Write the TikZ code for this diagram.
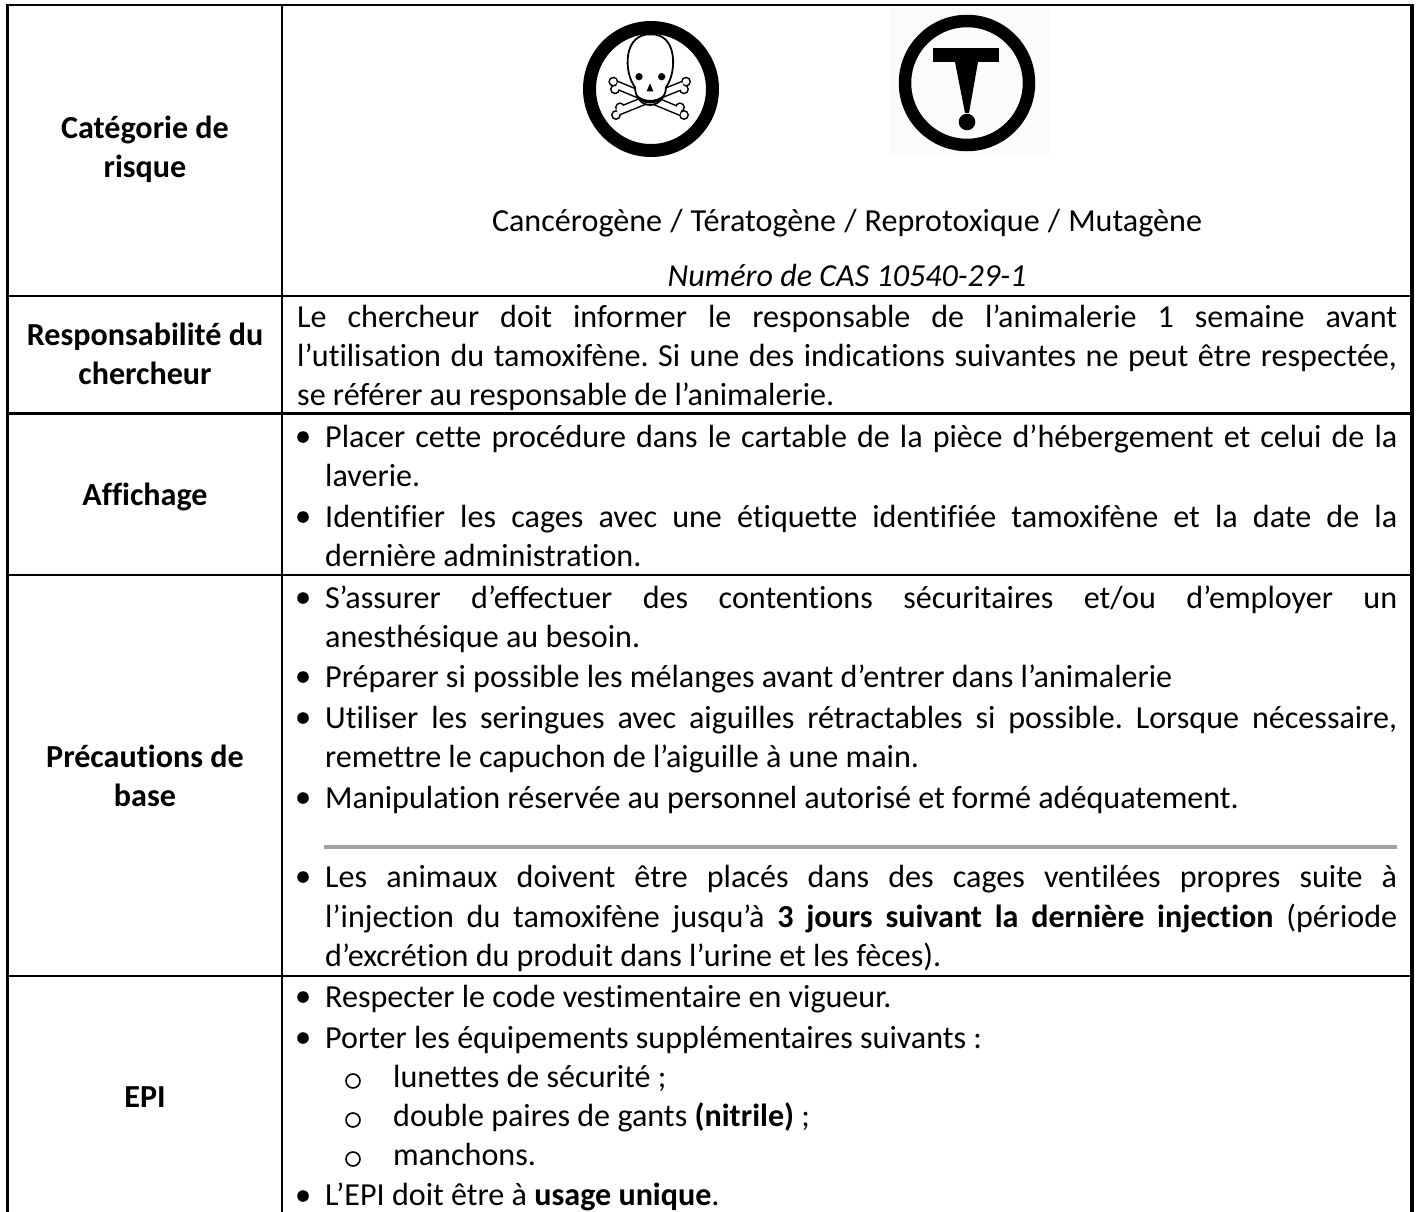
\documentclass[tikz,border=0pt]{standalone}
\usepackage{fontspec}
\setmainfont{Carlito}[Ligatures=NoCommon]
\newcommand{\fs}{\fontsize{32.1}{39}\selectfont\frenchspacing}
\tikzset{x=1pt,y=-1pt,
 rule/.style={line width=2.6pt,black},
 txt/.style={inner sep=0pt,anchor=base west,font=\fs,text=black},
 ctr/.style={inner sep=0pt,anchor=base,font=\fs,text=black},
 head/.style={inner sep=0pt,anchor=base,font=\fs\bfseries,text=black},
 bone/.style={line width=9pt,black},
 boneIn/.style={line width=6pt,white}}
\newcommand{\J}[4]{\node[txt] (#1) at (#2,#3) {\makebox[\dimexpr1397pt-#2pt\relax][s]{#4}};}
\newcommand{\Bul}[1]{\fill[black] (303,#1-10) circle (5.8pt);}
\newcommand{\Sub}[1]{\draw[black,line width=1.6pt] (353,#1-6) circle (7pt);}
\newcommand{\BoneEnd}[5]{% centre lobes
 \fill[#5] (#1,#2) circle (#4) (#1,#3) circle (#4);}
\begin{document}
\begin{tikzpicture}
\useasboundingbox (0,0) rectangle (1417,1212);
\fill[white] (0,0) rectangle (1417,1212);
% table rules
\draw[rule] (7.5,5) -- (1413,5);
\draw[rule] (7.5,3.7) -- (7.5,1212);
\draw[rule] (282,5) -- (282,1212);
\draw[line width=3.2pt,black] (1412,3.7) -- (1412,1212);
\draw[rule] (7.5,296) -- (1412,296);
\draw[rule] (7.5,413.5) -- (1412,413.5);
\draw[rule] (7.5,575) -- (1412,575);
\draw[rule] (7.5,976) -- (1412,976);
\draw[line width=4pt,black!37] (324,847) -- (1397,847);
% left column
\node[head] (a1) at (145,139) {Catégorie de};
\node[head] (a2) at (145,178) {risque};
\node[head] (b1) at (145,345) {Responsabilité du};
\node[head] (b2) at (145,384) {chercheur};
\node[head] (c1) at (145,505) {Affichage};
\node[head] (d1) at (145,767) {Précautions de};
\node[head] (d2) at (145,806) {base};
\node[head] (e1) at (145,1107) {EPI};
% symbol 1: skull and bones
\draw[line width=13pt,black] (651,89) circle (61.5);
\begin{scope}[shift={(560,0)},x=0.3333pt,y=-0.3333pt]
 \fill[black] (160,245) circle (15) (165,268) circle (15)
              (378,245) circle (15) (372,268) circle (15)
              (168,345) circle (15) (180,322) circle (15)
              (372,345) circle (15) (360,322) circle (15);
 \draw[bone] (170,255) -- (362,335) (172,335) -- (370,255);
 \fill[white] (160,245) circle (10) (165,268) circle (10)
              (378,245) circle (10) (372,268) circle (10)
              (168,345) circle (10) (180,322) circle (10)
              (372,345) circle (10) (360,322) circle (10);
 \draw[boneIn] (170,255) -- (362,335) (172,335) -- (370,255);
 \draw[black,line width=1.8pt,fill=white] (225,262)
   .. controls (190,215) and (190,100) .. (272,103)
   .. controls (352,100) and (352,215) .. (318,262)
   .. controls (318,285) and (300,315) .. (270,315)
   .. controls (240,315) and (225,285) .. (225,262) -- cycle;
 \fill[black] (237,230) circle (11) (305,230) circle (11);
 \fill[black] (270,250) -- (280,274) -- (260,274) -- cycle;
 \fill[black] (232,285) .. controls (250,305) and (290,305) .. (310,285)
   -- (306,296) .. controls (290,315) and (250,315) .. (236,296) -- cycle;
\end{scope}
% symbol 2: T mark
\fill[black!1.5] (890,8) rectangle (1050,155);
\draw[line width=12.5pt,black] (967,83) circle (62);
\fill[black] (933,48) rectangle (999,62);
\fill[black] (955,62) -- (978,62) -- (969,113) -- (965,113) -- cycle;
\fill[black] (967,122) circle (8.3);
% first row text
\node[ctr] (r1a) at (847,231) {\makebox[710pt][s]{Cancérogène / Tératogène / Reprotoxique / Mutagène}};
\node[ctr] (r1b) at (847,286) {\itshape Numéro de CAS 10540-29-1};
% responsabilité
\J{r2a}{297}{327}{Le chercheur doit informer le responsable de l’animalerie 1 semaine avant}
\J{r2b}{297}{366}{l’utilisation du tamoxifène. Si une des indications suivantes ne peut être respectée,}
\node[txt] (r2c) at (297,405) {se référer au responsable de l’animalerie.};
% affichage
\Bul{447}
\J{r3a}{325}{447}{Placer cette procédure dans le cartable de la pièce d’hébergement et celui de la}
\node[txt] (r3b) at (325,486) {laverie.};
\Bul{527}
\J{r3c}{325}{527}{Identifier les cages avec une étiquette identifiée tamoxifène et la date de la}
\node[txt] (r3d) at (325,566) {dernière administration.};
% précautions
\Bul{608}
\J{r4a}{325}{608}{S’assurer d’effectuer des contentions sécuritaires et/ou d’employer un}
\node[txt] (r4b) at (325,647) {anesthésique au besoin.};
\Bul{687}
\node[txt] (r4c) at (325,687) {Préparer si possible les mélanges avant d’entrer dans l’animalerie};
\Bul{728}
\J{r4d}{325}{728}{Utiliser les seringues avec aiguilles rétractables si possible. Lorsque nécessaire,}
\node[txt] (r4e) at (325,767) {remettre le capuchon de l’aiguille à une main.};
\Bul{808}
\node[txt] (r4f) at (325,808) {Manipulation réservée au personnel autorisé et formé adéquatement.};
\Bul{887}
\J{r4g}{325}{887}{Les animaux doivent être placés dans des cages ventilées propres suite à}
\J{r4h}{325}{927}{l’injection du tamoxifène jusqu’à \textbf{3 jours suivant la dernière injection} (période}
\node[txt] (r4i) at (325,966) {d’excrétion du produit dans l’urine et les fèces).};
% EPI
\Bul{1007}
\node[txt] (r5a) at (325,1007) {Respecter le code vestimentaire en vigueur.};
\Bul{1048}
\node[txt] (r5b) at (325,1048) {Porter les équipements supplémentaires suivants :};
\Sub{1087}
\node[txt] (r5c) at (393,1087) {lunettes de sécurité ;};
\Sub{1126}
\node[txt] (r5d) at (393,1126) {double paires de gants \textbf{(nitrile)} ;};
\Sub{1165}
\node[txt] (r5e) at (393,1165) {manchons.};
\Bul{1206}
\node[txt] (r5f) at (325,1205.5) {L’EPI doit être à \textbf{usage unique}.};
\end{tikzpicture}
\end{document}
